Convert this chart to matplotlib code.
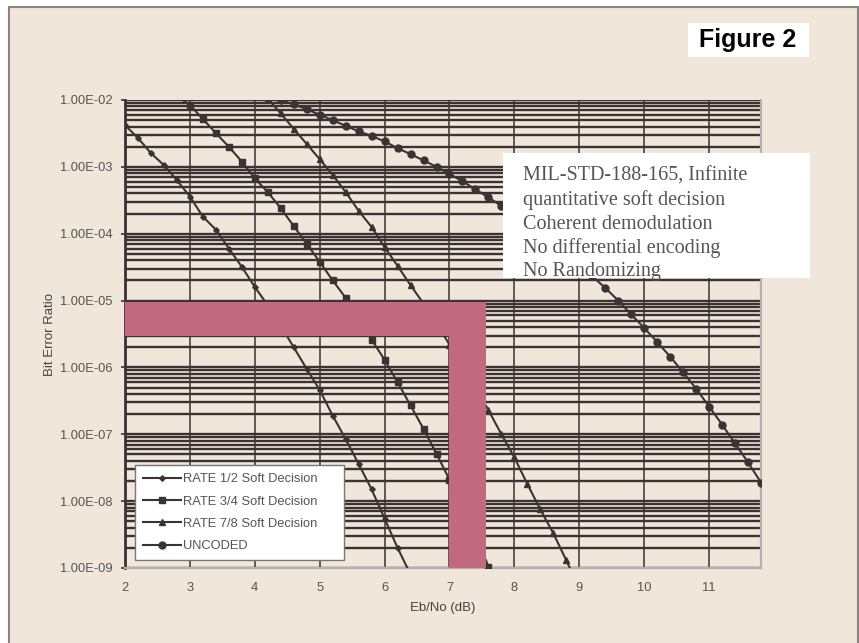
import numpy as np
import matplotlib
matplotlib.use("Agg")
from matplotlib import pyplot as plt
from matplotlib.patches import Rectangle
from matplotlib.ticker import FuncFormatter, LogLocator, NullFormatter

# dados (Eb/No em dB, BER)
x_r12 = [2.0, 2.2, 2.4, 2.6, 2.8, 3.0, 3.2, 3.4, 3.6, 3.8, 4.0, 4.2, 4.4, 4.6,
         4.8, 5.0, 5.2, 5.4, 5.6, 5.8, 6.0, 6.2, 6.4]
ber_r12 = [4.2e-3, 2.7e-3, 1.6e-3, 1.06e-3, 6.3e-4, 3.6e-4, 1.8e-4, 1.15e-4,
           6.0e-5, 3.2e-5, 1.6e-5, 8.5e-6, 4.2e-6, 2.0e-6, 9.5e-7, 4.6e-7,
           1.9e-7, 8.5e-8, 3.6e-8, 1.5e-8, 5.5e-9, 2.0e-9, 8.0e-10]

x_r34 = [2.8, 3.0, 3.2, 3.4, 3.6, 3.8, 4.0, 4.2, 4.4, 4.6, 4.8, 5.0, 5.2, 5.4,
         5.6, 5.8, 6.0, 6.2, 6.4, 6.6, 6.8, 7.0, 7.2, 7.4, 7.6]
ber_r34 = [1.15e-2, 8.4e-3, 5.2e-3, 3.2e-3, 2.0e-3, 1.2e-3, 6.7e-4, 4.2e-4,
           2.4e-4, 1.3e-4, 7.1e-5, 3.8e-5, 2.0e-5, 1.1e-5, 5.5e-6, 2.6e-6,
           1.3e-6, 6.0e-7, 2.7e-7, 1.2e-7, 5.1e-8, 2.1e-8, 8.5e-9, 3.2e-9,
           1.05e-9]

x_r78 = [4.2, 4.4, 4.6, 4.8, 5.0, 5.2, 5.4, 5.6, 5.8, 6.0, 6.2, 6.4, 6.6, 6.8,
         7.0, 7.2, 7.4, 7.6, 7.8, 8.0, 8.2, 8.4, 8.6, 8.8, 9.0]
ber_r78 = [1.05e-2, 6.3e-3, 3.7e-3, 2.2e-3, 1.3e-3, 7.6e-4, 4.2e-4, 2.2e-4,
           1.26e-4, 6.3e-5, 3.3e-5, 1.7e-5, 9.0e-6, 4.5e-6, 2.2e-6, 1.0e-6,
           5.0e-7, 2.3e-7, 1.0e-7, 4.5e-8, 1.8e-8, 7.5e-9, 3.3e-9, 1.3e-9,
           5.0e-10]

x_unc = [4.4, 4.6, 4.8, 5.0, 5.2, 5.4, 5.6, 5.8, 6.0, 6.2, 6.4, 6.6, 6.8, 7.0,
         7.2, 7.4, 7.6, 7.8, 8.0, 8.2, 8.4, 8.6, 8.8, 9.0, 9.2, 9.4, 9.6, 9.8,
         10.0, 10.2, 10.4, 10.6, 10.8, 11.0, 11.2, 11.4, 11.6, 11.8]
ber_unc = [1.0e-2, 8.6e-3, 7.3e-3, 6.0e-3, 5.0e-3, 4.1e-3, 3.4e-3, 2.9e-3,
           2.4e-3, 1.9e-3, 1.55e-3, 1.25e-3, 1.0e-3, 7.8e-4, 6.1e-4, 4.6e-4,
           3.5e-4, 2.6e-4, 1.9e-4, 1.4e-4, 9.8e-5, 6.9e-5, 4.8e-5, 3.4e-5,
           2.3e-5, 1.55e-5, 1.0e-5, 6.2e-6, 3.9e-6, 2.4e-6, 1.45e-6, 8.5e-7,
           4.8e-7, 2.6e-7, 1.4e-7, 7.3e-8, 3.8e-8, 1.9e-8]

labels = ['RATE 1/2 Soft Decision', 'RATE 3/4 Soft Decision',
          'RATE 7/8 Soft Decision', 'UNCODED']
xticks = [2, 3, 4, 5, 6, 7, 8, 9, 10, 11]

# faixa rosa em L (destaque)
faixa_h_x = [2.0, 7.56]
faixa_h_y = [3.0e-6, 9.5e-6]
faixa_v_x = [7.0, 7.56]
faixa_v_y = [1e-9, 3.0e-6]

texto_nota = ('MIL-STD-188-165, Infinite\nquantitative soft decision\n'
              'Coherent demodulation\nNo differential encoding\nNo Randomizing')

bege = '#f1e6da'
escuro = '#3b3333'
rosa = '#c0697f'
cinza_txt = '#555555'

plt.rcParams['font.family'] = ['Liberation Sans', 'DejaVu Sans']

fig = plt.figure(figsize=(8.59, 6.43), dpi=100, facecolor='white')
fundo = Rectangle((9/859, -0.01), (858-9)/859, 1.01 - 7/643,
                  transform=fig.transFigure, facecolor=bege,
                  edgecolor='#8c8484', lw=1.5, zorder=-5)
fig.patches.append(fundo)

ax = fig.add_axes([125/859, 1-568/643, (761-125)/859, (568-100)/643])
ax.set_zorder(1)
ax.set_facecolor(bege)
ax.set_yscale('log')
ax.set_xlim(2, 11.8)
ax.set_ylim(1e-9, 1e-2)

ax.yaxis.set_major_locator(LogLocator(base=10, numticks=20))
ax.yaxis.set_minor_locator(LogLocator(base=10, subs=np.arange(2, 10), numticks=20))
ax.yaxis.set_major_formatter(FuncFormatter(lambda v, p: '%.2E' % v))
ax.yaxis.set_minor_formatter(NullFormatter())
ax.set_xticks(xticks)

ax.grid(True, which='major', axis='y', color=escuro, lw=1.7, zorder=0)
ax.grid(True, which='minor', axis='y', color=escuro, lw=1.7, zorder=0)
ax.grid(True, which='major', axis='x', color=escuro, lw=1.1, zorder=0)
ax.set_axisbelow(True)

ax.tick_params(axis='y', which='major', length=3, width=1.2, color=escuro,
               labelsize=9.3, labelcolor=cinza_txt, pad=6)
ax.tick_params(axis='y', which='minor', length=0)
ax.tick_params(axis='x', which='major', length=0, labelsize=9.3,
               labelcolor=cinza_txt, pad=10)

ax.spines['top'].set_visible(False)
ax.spines['left'].set_color(escuro)
ax.spines['left'].set_linewidth(2)
ax.spines['bottom'].set_color('#b9b0b0')
ax.spines['bottom'].set_linewidth(1.6)
ax.spines['right'].set_color('#b9b0b0')
ax.spines['right'].set_linewidth(1.6)

kw = dict(color=escuro, lw=1.5, zorder=3)
ax.plot(x_r12, ber_r12, marker='D', ms=2.8, label=labels[0], **kw)
ax.plot(x_r34, ber_r34, marker='s', ms=5, label=labels[1], **kw)
ax.plot(x_r78, ber_r78, marker='^', ms=4, label=labels[2], **kw)
ax.plot(x_unc, ber_unc, marker='o', ms=5, label=labels[3], **kw)

# faixa rosa por cima das curvas
ax.fill_between(faixa_h_x, faixa_h_y[0], faixa_h_y[1], color=rosa, lw=0, zorder=4)
ax.fill_between(faixa_v_x, faixa_v_y[0], faixa_v_y[1], color=rosa, lw=0, zorder=4)

ax.set_xlabel('Eb/No (dB)', fontsize=9.5, color='#444444', labelpad=6)
ax.set_ylabel('Bit Error Ratio', fontsize=9.5, color='#444444', labelpad=3)

leg = ax.legend(loc='lower left', bbox_to_anchor=(0.0157, 0.017, 0.3286, 0.2),
                mode='expand', borderaxespad=0, fontsize=9.3,
                frameon=True, fancybox=False, handlelength=3.0,
                labelspacing=0.8, borderpad=0.6, handletextpad=0.1)
leg.get_frame().set_edgecolor('#777777')
leg.get_frame().set_facecolor('white')
leg.get_frame().set_alpha(1)
leg.get_frame().set_linewidth(1.0)
for t in leg.get_texts():
    t.set_color(cinza_txt)
leg.set_zorder(6)

# caixa de texto (por cima do grafico)
ax2 = fig.add_axes([0, 0, 1, 1], facecolor='none')
ax2.set_zorder(5)
ax2.axis('off')
ax2.set_xlim(0, 1)
ax2.set_ylim(0, 1)
ax2.add_patch(Rectangle((503/859, 1-278/643), (810-503)/859, (278-153)/643,
                        facecolor='white', edgecolor='none'))
ax2.text(523/859, 1-167/643, texto_nota, family='Liberation Serif', fontsize=14.5,
         color=cinza_txt, va='top', ha='left', linespacing=1.3)

ax2.add_patch(Rectangle((688/859, 1-57/643), (809-688)/859, (57-23)/643,
                        facecolor='white', edgecolor='none'))
ax2.text(748/859, 1-40/643, 'Figure 2', fontsize=18, fontweight='bold',
         color='black', ha='center', va='center')

fig.savefig('out.png', dpi=100, facecolor=fig.get_facecolor())
